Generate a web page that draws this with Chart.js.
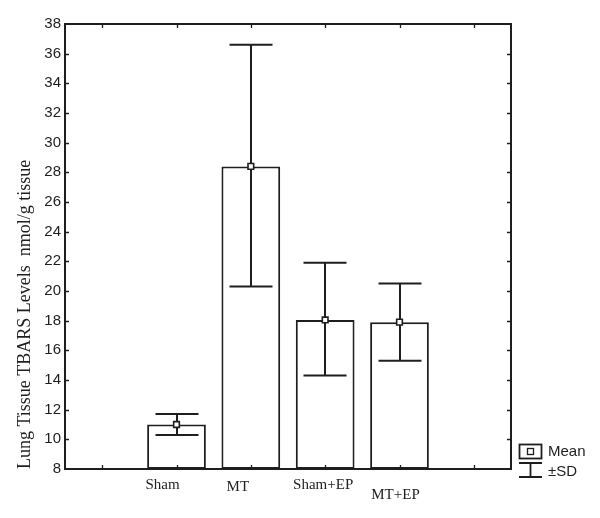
<!DOCTYPE html>
<html>
<head>
<meta charset="utf-8">
<script src="https://cdn.jsdelivr.net/npm/chart.js@4.4.0/dist/chart.umd.min.js"></script>
<style>
html, body { margin: 0; padding: 0; background: #fff; }
</style>
</head>
<body>
<canvas id="myChart" width="600" height="518"></canvas>
<script>
// data (empty slots at both ends of the axis)
var groups = ['', 'Sham', 'MT', 'Sham+EP', 'MT+EP', ''];
var means  = [null, 11.0, 28.4, 18.05, 17.9, null];
var sdLow  = [null, 10.3, 20.3, 14.3, 15.3, null];
var sdHigh = [null, 11.7, 36.6, 21.9, 20.5, null];
var yMin = 8, yMax = 38, yStep = 2;
var yTitle = 'Lung Tissue TBARS Levels  nmol/g tissue';
var legendItems = ['Mean', '\u00B1SD'];

// label nudges under the axis (styling only)
var labelDx = [0, -14, -13, -2, -4, 0];
var labelDy = [0, 20, 22, 20, 30, 0];

var ink = '#1e1e1e';

var extras = {
    id: 'extras',
    afterDatasetDraw: function(chart, args) {
        if (args.index !== 0) return;
        var ctx = chart.ctx;
        var xs = chart.scales.x, ys = chart.scales.y;
        ctx.save();
        ctx.strokeStyle = ink;
        ctx.lineWidth = 2;
        for (var i = 0; i < groups.length; i++) {
            if (means[i] == null) continue;
            var x = Math.round(xs.getPixelForValue(i));
            var yh = ys.getPixelForValue(sdHigh[i]);
            var yl = ys.getPixelForValue(sdLow[i]);
            ctx.beginPath();
            ctx.moveTo(x, yh); ctx.lineTo(x, yl);
            ctx.moveTo(x - 21.5, yh); ctx.lineTo(x + 21.5, yh);
            ctx.moveTo(x - 21.5, yl); ctx.lineTo(x + 21.5, yl);
            ctx.stroke();
        }
        ctx.restore();
    },
    afterDraw: function(chart) {
        var ctx = chart.ctx;
        var a = chart.chartArea;
        var xs = chart.scales.x, ys = chart.scales.y;
        ctx.save();
        ctx.strokeStyle = ink;
        ctx.lineWidth = 2;
        ctx.strokeRect(a.left, a.top, a.right - a.left, a.bottom - a.top);

        // inner ticks
        ctx.lineWidth = 1.3;
        ctx.beginPath();
        for (var v = yMin + yStep; v < yMax; v += yStep) {
            var y = Math.round(ys.getPixelForValue(v)) + 0.5;
            ctx.moveTo(a.left - 1, y); ctx.lineTo(a.left + 4, y);
            ctx.moveTo(a.right, y); ctx.lineTo(a.right - 4, y);
        }
        for (var i = 0; i < groups.length; i++) {
            var x = Math.round(xs.getPixelForValue(i)) + 0.5;
            ctx.moveTo(x, a.top); ctx.lineTo(x, a.top + 4);
            ctx.moveTo(x, a.bottom); ctx.lineTo(x, a.bottom - 4);
        }
        ctx.stroke();

        // category labels
        ctx.fillStyle = ink;
        ctx.font = '15px "Liberation Serif", "Times New Roman", serif';
        ctx.textAlign = 'center';
        ctx.textBaseline = 'alphabetic';
        for (var j = 0; j < groups.length; j++) {
            if (!groups[j]) continue;
            ctx.fillText(groups[j], xs.getPixelForValue(j) + labelDx[j], a.bottom + labelDy[j]);
        }

        // legend
        var lx = a.right + 8;
        ctx.lineWidth = 1.8;
        ctx.strokeRect(lx + 0.5, 444.5, 22, 14);
        ctx.lineWidth = 1.3;
        ctx.strokeRect(lx + 8.5, 448.5, 6, 6);
        ctx.lineWidth = 1.8;
        ctx.beginPath();
        ctx.moveTo(lx, 463); ctx.lineTo(lx + 23, 463);
        ctx.moveTo(lx + 11.5, 463); ctx.lineTo(lx + 11.5, 477);
        ctx.moveTo(lx, 477); ctx.lineTo(lx + 23, 477);
        ctx.stroke();
        ctx.font = '15px "Liberation Sans", Arial, sans-serif';
        ctx.textAlign = 'left';
        ctx.textBaseline = 'middle';
        ctx.fillText(legendItems[0], lx + 29, 452);
        ctx.fillText(legendItems[1], lx + 29, 472);
        ctx.restore();
    }
};

const ctx = document.getElementById('myChart');
const myChart = new Chart(ctx, {
    type: 'bar',
    data: {
        labels: groups,
        datasets: [{
            type: 'bar',
            data: means,
            base: yMin,
            backgroundColor: '#ffffff',
            borderColor: ink,
            borderWidth: 2,
            borderSkipped: false,
            barPercentage: 0.79,
            categoryPercentage: 1,
            order: 2
        }, {
            type: 'line',
            data: means,
            showLine: false,
            pointStyle: 'rect',
            pointRadius: 4,
            pointBackgroundColor: '#ffffff',
            pointBorderColor: ink,
            pointBorderWidth: 1.6,
            order: 1
        }]
    },
    options: {
        responsive: false,
        animation: false,
        layout: { padding: { top: 24, right: 89, left: 0, bottom: 0 } },
        plugins: {
            legend: { display: false },
            tooltip: { enabled: false }
        },
        scales: {
            x: {
                offset: true,
                grid: { display: false },
                border: { display: false },
                ticks: { display: false },
                afterFit: function(s) { s.height = 49; }
            },
            y: {
                min: yMin,
                max: yMax,
                grid: { display: false, drawTicks: false },
                border: { display: false },
                ticks: {
                    stepSize: yStep,
                    padding: 4,
                    color: ink,
                    font: { family: '"Liberation Sans", Arial, sans-serif', size: 15 }
                },
                title: {
                    display: true,
                    text: yTitle,
                    align: 'start',
                    color: ink,
                    font: { family: '"Liberation Serif", "Times New Roman", serif', size: 18 },
                    padding: { top: 14, bottom: 0 }
                },
                afterFit: function(s) { s.width = 65; }
            }
        }
    },
    plugins: [extras]
});
</script>
</body>
</html>
